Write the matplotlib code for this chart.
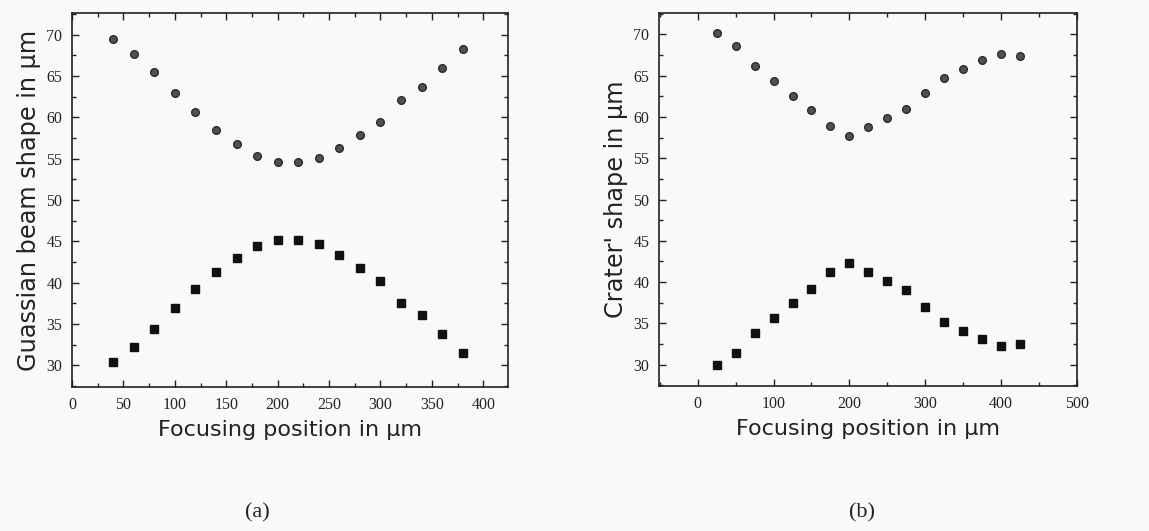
import matplotlib
matplotlib.use("Agg")
import matplotlib.pyplot as plt
from matplotlib.ticker import MultipleLocator

# Panel (a)
xa = [40, 60, 80, 100, 120, 140, 160, 180, 200, 220, 240, 260, 280, 300, 320, 340, 360, 380]
a_circ = [69.5, 67.6, 65.5, 62.9, 60.6, 58.5, 56.8, 55.35, 54.55, 54.55, 55.1, 56.3, 57.9, 59.4, 62.1, 63.6, 65.9, 68.2]
a_sq = [30.4, 32.2, 34.35, 36.9, 39.2, 41.3, 43.0, 44.4, 45.2, 45.2, 44.7, 43.4, 41.8, 40.2, 37.6, 36.1, 33.75, 31.5]

# Panel (b)
xb = [25, 50, 75, 100, 125, 150, 175, 200, 225, 250, 275, 300, 325, 350, 375, 400, 425]
b_circ = [70.15, 68.65, 66.15, 64.35, 62.6, 60.85, 58.85, 57.7, 58.8, 59.85, 61.0, 62.95, 64.7, 65.8, 66.85, 67.65, 67.35]
b_sq = [29.9, 31.4, 33.85, 35.65, 37.4, 39.15, 41.2, 42.3, 41.2, 40.1, 39.0, 37.0, 35.2, 34.1, 33.1, 32.25, 32.55]

a_xticks = [0, 50, 100, 150, 200, 250, 300, 350, 400]
b_xticks = [0, 100, 200, 300, 400, 500]
yticks = [30, 35, 40, 45, 50, 55, 60, 65, 70]

bg = "#f9f9f7"
fig = plt.figure(figsize=(11.49, 5.31), dpi=100, facecolor=bg)

W, H = 1149, 531
def add_ax(l, r, t, b):
    return fig.add_axes([l / W, 1 - b / H, (r - l) / W, (b - t) / H])

axA = add_ax(72, 508, 13, 387)
axB = add_ax(659, 1077, 13, 386)

label_font = ["DejaVu Sans"]
tick_font = ["Liberation Serif"]

def style(ax, xt, xmin, xmax, xminor):
    ax.set_facecolor(bg)
    ax.set_xlim(xmin, xmax)
    ax.set_ylim(27.4, 72.6)
    ax.set_xticks(xt)
    ax.set_yticks(yticks)
    ax.xaxis.set_minor_locator(MultipleLocator(xminor))
    ax.yaxis.set_minor_locator(MultipleLocator(2.5))
    ax.tick_params(which="both", direction="in", top=True, right=True,
                   labelsize=11.5, colors="#222222", width=1.0)
    ax.tick_params(which="major", length=5, pad=7)
    ax.tick_params(which="minor", length=3)
    for lab in ax.get_xticklabels() + ax.get_yticklabels():
        lab.set_family(tick_font)
    for s in ax.spines.values():
        s.set_linewidth(1.2)
        s.set_color("#222222")

axA.plot(xa, a_circ, linestyle="none", marker="o", ms=5.5, mfc="#505050", mec="#2a2a2a", mew=1.0)
axA.plot(xa, a_sq, linestyle="none", marker="s", ms=5.5, mfc="#111111", mec="#111111")
style(axA, a_xticks, 0, 424, 25)
axA.set_xlabel("Focusing position in µm", fontsize=16, family=label_font, color="#222222", labelpad=5)
axA.set_ylabel("Guassian beam shape in µm", fontsize=17.3, family=label_font, color="#222222", labelpad=4)

axB.plot(xb, b_circ, linestyle="none", marker="o", ms=5.5, mfc="#505050", mec="#2a2a2a", mew=1.0)
axB.plot(xb, b_sq, linestyle="none", marker="s", ms=5.5, mfc="#111111", mec="#111111")
style(axB, b_xticks, -51, 500, 50)
axB.set_xlabel("Focusing position in µm", fontsize=16, family=label_font, color="#222222", labelpad=5)
axB.set_ylabel("Crater' shape in µm", fontsize=17.3, family=label_font, color="#222222", labelpad=4)

fig.text(257 / W, 1 - 513 / H, "(a)", ha="center", va="center", fontsize=16, family=tick_font, color="#222222")
fig.text(862 / W, 1 - 513 / H, "(b)", ha="center", va="center", fontsize=16, family=tick_font, color="#222222")

fig.savefig("out.png", dpi=100, facecolor=bg)
